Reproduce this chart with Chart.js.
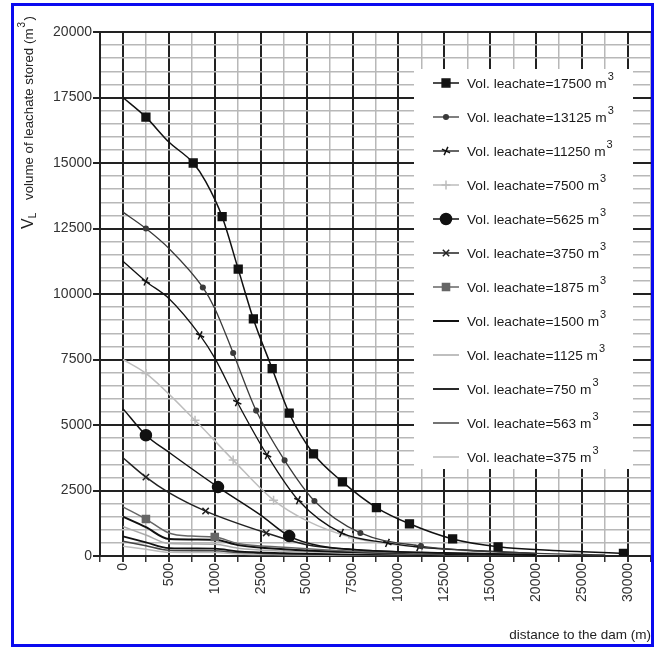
<!DOCTYPE html>
<html>
<head>
<meta charset="utf-8">
<script src="https://cdn.jsdelivr.net/npm/chart.js@4.4.1/dist/chart.umd.min.js"></script>
<style>
  html, body { margin: 0; padding: 0; background: #fff; }
  #wrap { position: relative; width: 654px; height: 647px; background: #fff; }
  #frame { position: absolute; left: 11px; top: 3px; width: 637px; height: 638px; border: 3px solid #0a0aef; pointer-events: none; }
</style>
</head>
<body>
<div id="wrap">
  <canvas id="chart" width="654" height="647"></canvas>
  <div id="frame"></div>
</div>
<script>
// tick labels of the distance axis (m); they are evenly spaced on the plot
const distanceLabels = ['0', '500', '1000', '2500', '5000', '7500', '10000', '12500', '15000', '20000', '25000', '30000'];

// x values are positions along the distance axis in tick steps (0 = '0', 11 = '30000')
const x17500 = [0, 0.5, 1.0, 1.53, 1.8, 2.16, 2.51, 2.84, 3.25, 3.62, 4.15, 4.78, 5.52, 6.24, 7.18, 8.17, 9.5, 10.9];
const y17500 = [17500, 16750, 15800, 15000, 14300, 12950, 10950, 9050, 7150, 5450, 3900, 2830, 1850, 1230, 650, 350, 200, 100];
const m17500 = [0, 1, 0, 1, 0, 1, 1, 1, 1, 1, 1, 1, 1, 1, 1, 1, 0, 1];

const x13125 = [0, 0.5, 1.0, 1.74, 2.0, 2.4, 2.9, 3.52, 4.17, 5.17, 6.49, 7.5, 9.0, 10.5];
const y13125 = [13125, 12500, 11740, 10250, 9450, 7750, 5550, 3650, 2100, 880, 380, 220, 100, 40];
const m13125 = [0, 1, 0, 1, 0, 1, 1, 1, 1, 1, 1, 0, 0, 0];

const x11250 = [0, 0.5, 1.0, 1.68, 2.0, 2.49, 3.14, 3.82, 4.76, 5.76, 6.44, 7.5, 9.0];
const y11250 = [11250, 10480, 9830, 8420, 7550, 5870, 3850, 2130, 880, 500, 340, 220, 100];
const m11250 = [0, 1, 0, 1, 0, 1, 1, 1, 1, 1, 1, 0, 0];

const x7500 = [0, 0.5, 1.57, 2.4, 3.28, 4.0, 5.0, 6.5, 8.0];
const y7500 = [7500, 6970, 5180, 3660, 2130, 1350, 700, 330, 150];
const m7500 = [0, 1, 1, 1, 1, 0, 1, 0, 0];

const x5625 = [0, 0.5, 1.0, 2.07, 3.0, 3.62, 4.3, 5.5, 7.0, 9.0];
const y5625 = [5625, 4610, 3960, 2630, 1560, 760, 380, 200, 120, 60];
const m5625 = [0, 1, 0, 1, 0, 1, 0, 0, 0, 0];

const x3750 = [0, 0.5, 1.0, 1.8, 3.12, 4.0, 5.0, 6.5, 8.0];
const y3750 = [3750, 3010, 2420, 1715, 880, 430, 250, 130, 60];
const m3750 = [0, 1, 0, 1, 1, 0, 0, 0, 0];

const x1875 = [0, 0.5, 1.0, 1.5, 2.0, 2.5, 3.5, 5.0, 7.0];
const y1875 = [1875, 1410, 880, 760, 724, 480, 330, 180, 80];
const m1875 = [0, 1, 0, 0, 1, 0, 0, 0, 0];

// the smallest volumes share one set of positions and carry no markers
const xSmall = [0, 0.5, 1.0, 2.0, 2.5, 3.5, 5.0, 7.0, 9.0];
const y1500 = [1500, 1100, 650, 620, 420, 260, 150, 80, 40];
const y1125 = [1125, 800, 480, 450, 300, 190, 110, 60, 30];
const y750 = [750, 520, 300, 280, 180, 110, 60, 35, 15];
const y563 = [563, 390, 220, 200, 130, 80, 45, 25, 10];
const y375 = [375, 260, 140, 130, 80, 50, 30, 15, 5];

const FONT = '"Liberation Sans", Arial, sans-serif';

function series(volume, xs, ys, marks, style) {
  return {
    label: volume,
    data: xs.map((x, i) => ({ x: x, y: ys[i] })),
    borderColor: style.color,
    borderWidth: style.width,
    pointStyle: style.point || 'circle',
    pointRadius: xs.map((_, i) => (marks && marks[i] ? style.radius : 0)),
    pointRotation: style.rotation || 0,
    pointBackgroundColor: style.color,
    pointBorderColor: style.color,
    pointBorderWidth: 1.5,
    legendMarker: !!style.point,
    legendRadius: style.radius || 0,
    cubicInterpolationMode: 'monotone',
    fill: false,
  };
}

const datasets = [
  series('17500', x17500, y17500, m17500, { color: '#111', width: 1.5, point: 'rect', radius: 5.5 }),
  series('13125', x13125, y13125, m13125, { color: '#3a3a3a', width: 1.3, point: 'circle', radius: 2.3 }),
  series('11250', x11250, y11250, m11250, { color: '#111', width: 1.3, point: 'cross', radius: 4.5, rotation: 25 }),
  series('7500', x7500, y7500, m7500, { color: '#bdbdbd', width: 1.5, point: 'cross', radius: 4.5 }),
  series('5625', x5625, y5625, m5625, { color: '#111', width: 1.5, point: 'circle', radius: 5.5 }),
  series('3750', x3750, y3750, m3750, { color: '#222', width: 1.5, point: 'crossRot', radius: 4.5 }),
  series('1875', x1875, y1875, m1875, { color: '#666', width: 1.5, point: 'rect', radius: 5 }),
  series('1500', xSmall, y1500, null, { color: '#111', width: 2 }),
  series('1125', xSmall, y1125, null, { color: '#aaa', width: 1.5 }),
  series('750', xSmall, y750, null, { color: '#111', width: 1.8 }),
  series('563', xSmall, y563, null, { color: '#444', width: 1.5 }),
  series('375', xSmall, y375, null, { color: '#bbb', width: 1.5 }),
];

// legend box drawn over the plot, top right
const insideLegend = {
  id: 'insideLegend',
  afterDatasetsDraw(chart) {
    const ctx = chart.ctx;
    ctx.save();
    ctx.fillStyle = '#fff';
    ctx.fillRect(414, 69, 219, 400);
    chart.data.datasets.forEach((ds, i) => {
      const y = 83 + i * 34;
      ctx.strokeStyle = ds.borderColor;
      ctx.lineWidth = ds.borderWidth;
      ctx.beginPath();
      ctx.moveTo(433, y);
      ctx.lineTo(459, y);
      ctx.stroke();
      if (ds.legendMarker && Chart.helpers && Chart.helpers.drawPoint) {
        ctx.fillStyle = ds.pointBackgroundColor;
        ctx.strokeStyle = ds.pointBorderColor;
        ctx.lineWidth = 1.5;
        Chart.helpers.drawPoint(ctx, {
          pointStyle: ds.pointStyle,
          radius: ds.legendRadius,
          rotation: ds.pointRotation,
          borderWidth: 1.5,
        }, 446, y);
      }
      ctx.fillStyle = '#1a1a1a';
      ctx.textAlign = 'left';
      ctx.textBaseline = 'middle';
      ctx.font = '13.7px ' + FONT;
      const txt = 'Vol. leachate=' + ds.label + ' m';
      ctx.fillText(txt, 467, y + 1);
      const w = ctx.measureText(txt).width;
      ctx.font = '11px ' + FONT;
      ctx.fillText('3', 468 + w, y - 6);
    });
    ctx.restore();
  },
};

// rotated y title with subscript L and superscript 3
const yTitle = {
  id: 'yTitle',
  afterDraw(chart) {
    const ctx = chart.ctx;
    ctx.save();
    ctx.translate(33, 229);
    ctx.rotate(-Math.PI / 2);
    ctx.fillStyle = '#222';
    ctx.textAlign = 'left';
    ctx.textBaseline = 'alphabetic';
    ctx.font = '16px ' + FONT;
    ctx.fillText('V', 0, 0);
    const wV = ctx.measureText('V').width;
    ctx.font = '10px ' + FONT;
    ctx.fillText('L', wV, 3);
    ctx.font = '13.3px ' + FONT;
    const main = 'volume of leachate stored (m';
    ctx.fillText(main, 29, 0);
    const wm = ctx.measureText(main).width;
    ctx.font = '10px ' + FONT;
    ctx.fillText('3', 30 + wm, -8);
    ctx.font = '13.3px ' + FONT;
    ctx.fillText(')', 37 + wm, 0);
    ctx.restore();
  },
};

new Chart(document.getElementById('chart'), {
  type: 'line',
  data: { datasets: datasets },
  plugins: [insideLegend, yTitle],
  options: {
    responsive: false,
    animation: false,
    devicePixelRatio: 1,
    layout: { autoPadding: false, padding: { left: 0, right: 3, top: 32, bottom: 0 } },
    plugins: {
      legend: { display: false },
      tooltip: { enabled: false },
    },
    scales: {
      x: {
        type: 'linear',
        min: -0.5,
        max: 11.5,
        afterFit(scale) {
          scale.height = 91;
          scale.paddingLeft = 0;
          scale.paddingRight = 0;
        },
        ticks: {
          stepSize: 0.5,
          autoSkip: false,
          minRotation: 90,
          maxRotation: 90,
          padding: 1,
          color: '#333',
          font: { family: FONT, size: 14 },
          callback: (v) => (Number.isInteger(v) ? distanceLabels[v] : ''),
        },
        grid: {
          color: (c) => (Number.isInteger(c.tick.value) ? '#222' : '#b8b8b8'),
          lineWidth: (c) => (Number.isInteger(c.tick.value) ? 2 : 1.5),
          tickLength: 6,
          tickColor: '#333',
        },
        border: { color: '#222', width: 2 },
        title: {
          display: true,
          text: 'distance to the dam (m)',
          align: 'end',
          color: '#222',
          font: { family: FONT, size: 13.5 },
          padding: { top: 0, bottom: 4 },
        },
      },
      y: {
        min: 0,
        max: 20000,
        afterFit(scale) {
          scale.width = 100;
        },
        ticks: {
          stepSize: 500,
          autoSkip: false,
          padding: 1,
          color: '#333',
          font: { family: FONT, size: 14 },
          callback: (v) => (v % 2500 === 0 ? String(v) : ''),
        },
        grid: {
          color: (c) => (c.tick.value % 2500 === 0 ? '#222' : '#b8b8b8'),
          lineWidth: (c) => (c.tick.value % 2500 === 0 ? 2 : 1.5),
          tickLength: 7,
          tickColor: (c) => (c.tick.value % 2500 === 0 ? '#222' : 'rgba(0,0,0,0)'),
        },
        border: { color: '#222', width: 2 },
      },
    },
  },
});
</script>
</body>
</html>
